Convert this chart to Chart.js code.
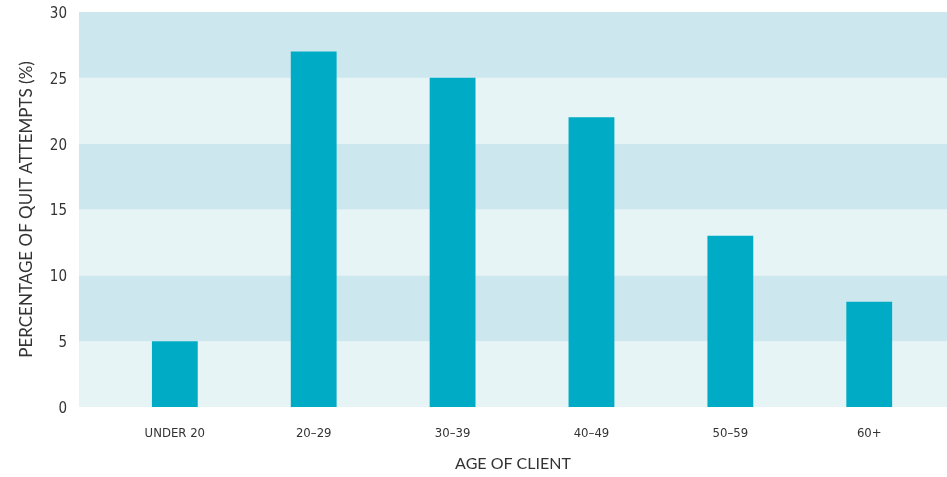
<!DOCTYPE html>
<html>
<head>
<meta charset="utf-8">
<script src="https://cdn.jsdelivr.net/npm/chart.js@4/dist/chart.umd.min.js"></script>
<style>
    html, body { margin: 0; padding: 0; background: #ffffff; }
    #wrap { width: 947px; height: 477px; }
</style>
</head>
<body>
<div id="wrap"><canvas id="myChart"></canvas></div>
<script>
const ageGroups = ['UNDER 20', '20\u201329', '30\u201339', '40\u201349', '50\u201359', '60+'];
const quitAttempts = [5, 27, 25, 22, 13, 8];
const yTicks = [0, 5, 10, 15, 20, 25, 30];

// Alternating horizontal bands behind the bars
const bandPlugin = {
    id: 'bands',
    beforeDatasetsDraw(chart) {
        const ctx = chart.ctx;
        const area = chart.chartArea;
        const y = chart.scales.y;
        ctx.save();
        for (let i = 0; i < yTicks.length - 1; i++) {
            const top = y.getPixelForValue(yTicks[i + 1]);
            const bottom = y.getPixelForValue(yTicks[i]);
            ctx.fillStyle = (i % 2 === 1) ? '#cce8ee' : '#e6f4f6';
            ctx.fillRect(area.left, top, area.right - area.left, bottom - top);
        }
        ctx.restore();
    }
};

const ctx = document.getElementById('myChart').getContext('2d');
new Chart(ctx, {
    type: 'bar',
    data: {
        datasets: [{
            data: quitAttempts.map((v, i) => ({ x: i, y: v })),
            backgroundColor: '#00abc5',
            borderWidth: 0,
            categoryPercentage: 1,
            barPercentage: 0.33
        }]
    },
    options: {
        responsive: true,
        maintainAspectRatio: false,
        animation: false,
        layout: { padding: { top: 12, right: 0, bottom: 0, left: 0 } },
        plugins: {
            legend: { display: false },
            tooltip: { enabled: false }
        },
        scales: {
            x: {
                type: 'linear',
                min: -0.69,
                max: 5.56,
                offset: false,
                bounds: 'data',
                grid: { display: false, drawTicks: false },
                border: { display: false },
                afterBuildTicks(scale) {
                    scale.ticks = ageGroups.map((g, i) => ({ value: i }));
                },
                ticks: {
                    color: '#333333',
                    padding: 19,
                    autoSkip: false,
                    maxRotation: 0,
                    callback: (v) => ageGroups[v],
                    font: { family: "'DejaVu Sans Condensed', 'DejaVu Sans', sans-serif", size: 13 }
                },
                title: {
                    display: true,
                    text: 'AGE OF CLIENT',
                    color: '#333333',
                    padding: { top: 12 },
                    font: { family: 'Lato', size: 16 }
                },
                afterFit(scale) {
                    scale.height = 70;
                    scale.paddingLeft = 0;
                    scale.paddingRight = 0;
                }
            },
            y: {
                min: 0,
                max: 30,
                grid: { display: false, drawTicks: false },
                border: { display: false },
                ticks: {
                    stepSize: 5,
                    color: '#333333',
                    padding: 12,
                    labelOffset: 2,
                    font: { family: "'DejaVu Sans Condensed', 'DejaVu Sans', sans-serif", size: 15 }
                },
                title: {
                    display: true,
                    text: 'PERCENTAGE OF QUIT ATTEMPTS (%)',
                    color: '#333333',
                    padding: { top: 16, bottom: 0 },
                    font: { family: 'Lato', size: 17 }
                },
                afterFit(scale) {
                    scale.width = 79;
                    scale.paddingTop = 0;
                    scale.paddingBottom = 0;
                }
            }
        }
    },
    plugins: [bandPlugin]
});
</script>
</body>
</html>
